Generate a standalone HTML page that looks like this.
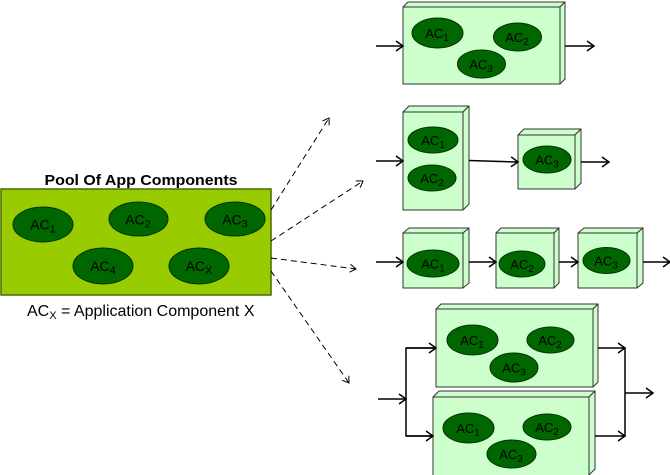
<!DOCTYPE html>
<html>
<head>
<meta charset="utf-8">
<style>
html,body{margin:0;padding:0;background:#fff;}
svg{display:block;}
text{font-family:"Liberation Sans",Arial,sans-serif;fill:#000;}
</style>
</head>
<body>
<svg width="670" height="475" viewBox="0 0 670 475" xmlns="http://www.w3.org/2000/svg">
<defs>
<marker id="ah" markerUnits="userSpaceOnUse" markerWidth="12" markerHeight="12" refX="9" refY="6" orient="auto">
<path d="M2,1 L9,6 L2,11" fill="none" stroke="#000" stroke-width="1.5"/>
</marker>
<marker id="ahd" markerUnits="userSpaceOnUse" markerWidth="12" markerHeight="12" refX="9" refY="6" orient="auto">
<path d="M3,2 L9,6 L3,10" fill="none" stroke="#000" stroke-width="1"/>
</marker>
</defs>

<!-- Pool -->
<text x="141" y="185" font-size="15" font-weight="bold" text-anchor="middle" textLength="193" lengthAdjust="spacingAndGlyphs">Pool Of App Components</text>
<rect x="1" y="189" width="270" height="106" fill="#99cc00" stroke="#4d6600" stroke-width="1.5"/>
<g fill="#006600" stroke="#003300" stroke-width="1">
<ellipse cx="43" cy="224.5" rx="30" ry="17.5"/>
<ellipse cx="138.5" cy="219" rx="29.5" ry="17"/>
<ellipse cx="235" cy="219" rx="30" ry="17"/>
<ellipse cx="103" cy="266" rx="30" ry="18"/>
<ellipse cx="199" cy="266" rx="30" ry="18"/>
</g>
<g font-size="14" text-anchor="middle">
<text x="43" y="229.5">AC<tspan font-size="11" dy="3">1</tspan></text>
<text x="138" y="224.5">AC<tspan font-size="11" dy="3">2</tspan></text>
<text x="235" y="224.5">AC<tspan font-size="11" dy="3">3</tspan></text>
<text x="103" y="271">AC<tspan font-size="11" dy="3">4</tspan></text>
<text x="199" y="271">AC<tspan font-size="11" dy="3">X</tspan></text>
</g>
<text x="27" y="316" font-size="16">AC<tspan font-size="11" dy="3">X</tspan><tspan dy="-3"> = Application Component X</tspan></text>

<!-- Dashed arrows -->
<g stroke="#000" stroke-width="1" stroke-dasharray="6,4" fill="none">
<line x1="271" y1="210" x2="329" y2="118" marker-end="url(#ahd)"/>
<line x1="271" y1="241" x2="363" y2="181" marker-end="url(#ahd)"/>
<line x1="271" y1="258" x2="356" y2="269" marker-end="url(#ahd)"/>
<line x1="271" y1="271" x2="349" y2="383" marker-end="url(#ahd)"/>
</g>

<!-- 3D boxes -->
<g fill="#ccffcc" stroke="#333" stroke-width="1" stroke-linejoin="round">
<polygon points="403,7 408,2 565,2 560,7"/>
<polygon points="560,7 565,2 565,79 560,84"/>
<rect x="403" y="7" width="157" height="77"/>
<polygon points="403,112 409,106 469,106 463,112"/>
<polygon points="463,112 469,106 469,204 463,210"/>
<rect x="403" y="112" width="60" height="98"/>
<polygon points="518,135 524,129 581,129 575,135"/>
<polygon points="575,135 581,129 581,183 575,189"/>
<rect x="518" y="135" width="57" height="54"/>
<polygon points="403,233 409,228 469,228 463,233"/>
<polygon points="463,233 469,228 469,283 463,288"/>
<rect x="403" y="233" width="60" height="55"/>
<polygon points="496,233 501,228 559,228 554,233"/>
<polygon points="554,233 559,228 559,283 554,288"/>
<rect x="496" y="233" width="58" height="55"/>
<polygon points="578,233 584,228 643,228 637,233"/>
<polygon points="637,233 643,228 643,283 637,288"/>
<rect x="578" y="233" width="59" height="55"/>
<polygon points="436,309 441,304 598,304 593,309"/>
<polygon points="593,309 598,304 598,382 593,387"/>
<rect x="436" y="309" width="157" height="78"/>
<polygon points="433,397 439,391 595,391 589,397"/>
<polygon points="589,397 595,391 595,469 589,475"/>
<rect x="433" y="397" width="156" height="80"/>
</g>

<!-- Ellipses in boxes -->
<g fill="#006600" stroke="#003300" stroke-width="1">
<ellipse cx="437.5" cy="33" rx="25.5" ry="15"/>
<ellipse cx="517.5" cy="37" rx="24" ry="14"/>
<ellipse cx="481.5" cy="64" rx="24" ry="14"/>
<ellipse cx="433" cy="140" rx="25" ry="13"/>
<ellipse cx="432" cy="178" rx="24" ry="13"/>
<ellipse cx="547" cy="159.5" rx="24" ry="13.5"/>
<ellipse cx="433" cy="263.5" rx="26" ry="13.5"/>
<ellipse cx="522" cy="264" rx="23" ry="13"/>
<ellipse cx="606.5" cy="260.5" rx="23.5" ry="13"/>
<ellipse cx="472.5" cy="340" rx="25.5" ry="15"/>
<ellipse cx="550.5" cy="340" rx="23.5" ry="13"/>
<ellipse cx="514" cy="367.5" rx="24" ry="14.5"/>
<ellipse cx="468.5" cy="428" rx="25.5" ry="15"/>
<ellipse cx="547" cy="427" rx="24" ry="13"/>
<ellipse cx="511.5" cy="454" rx="24.5" ry="14"/>
</g>
<g font-size="13" text-anchor="middle">
<text x="437" y="38">AC<tspan font-size="10" dy="3">1</tspan></text>
<text x="517" y="42">AC<tspan font-size="10" dy="3">2</tspan></text>
<text x="481" y="69">AC<tspan font-size="10" dy="3">3</tspan></text>
<text x="433" y="145">AC<tspan font-size="10" dy="3">1</tspan></text>
<text x="432" y="183">AC<tspan font-size="10" dy="3">2</tspan></text>
<text x="547" y="164.5">AC<tspan font-size="10" dy="3">3</tspan></text>
<text x="433" y="268.5">AC<tspan font-size="10" dy="3">1</tspan></text>
<text x="522" y="269">AC<tspan font-size="10" dy="3">2</tspan></text>
<text x="606" y="265.5">AC<tspan font-size="10" dy="3">3</tspan></text>
<text x="472" y="345">AC<tspan font-size="10" dy="3">1</tspan></text>
<text x="550" y="345">AC<tspan font-size="10" dy="3">2</tspan></text>
<text x="514" y="372.5">AC<tspan font-size="10" dy="3">3</tspan></text>
<text x="468" y="433">AC<tspan font-size="10" dy="3">1</tspan></text>
<text x="547" y="432">AC<tspan font-size="10" dy="3">2</tspan></text>
<text x="511" y="459">AC<tspan font-size="10" dy="3">3</tspan></text>
</g>

<!-- Solid arrows -->
<g stroke="#000" stroke-width="1.5" fill="none">
<line x1="376" y1="46" x2="403" y2="46" marker-end="url(#ah)"/>
<line x1="565" y1="46" x2="594" y2="46" marker-end="url(#ah)"/>
<line x1="376" y1="161" x2="403" y2="161" marker-end="url(#ah)"/>
<line x1="469" y1="160.5" x2="518" y2="162" marker-end="url(#ah)"/>
<line x1="581" y1="162" x2="609" y2="162" marker-end="url(#ah)"/>
<line x1="376" y1="262" x2="403" y2="262" marker-end="url(#ah)"/>
<line x1="469" y1="262" x2="496" y2="262" marker-end="url(#ah)"/>
<line x1="559" y1="262" x2="578" y2="262" marker-end="url(#ah)"/>
<line x1="643" y1="262" x2="670" y2="262" marker-end="url(#ah)"/>
<line x1="378" y1="399" x2="406" y2="399" marker-end="url(#ah)"/>
<polyline points="436,348 406,348 406,436 433,436"/>
<line x1="406" y1="348" x2="436" y2="348" marker-end="url(#ah)"/>
<line x1="406" y1="436" x2="433" y2="436" marker-end="url(#ah)"/>
<line x1="598" y1="348" x2="625" y2="348" marker-end="url(#ah)"/>
<line x1="595" y1="436" x2="625" y2="436" marker-end="url(#ah)"/>
<line x1="625" y1="348" x2="625" y2="436"/>
<line x1="625" y1="393" x2="653" y2="393" marker-end="url(#ah)"/>
</g>
</svg>
</body>
</html>
